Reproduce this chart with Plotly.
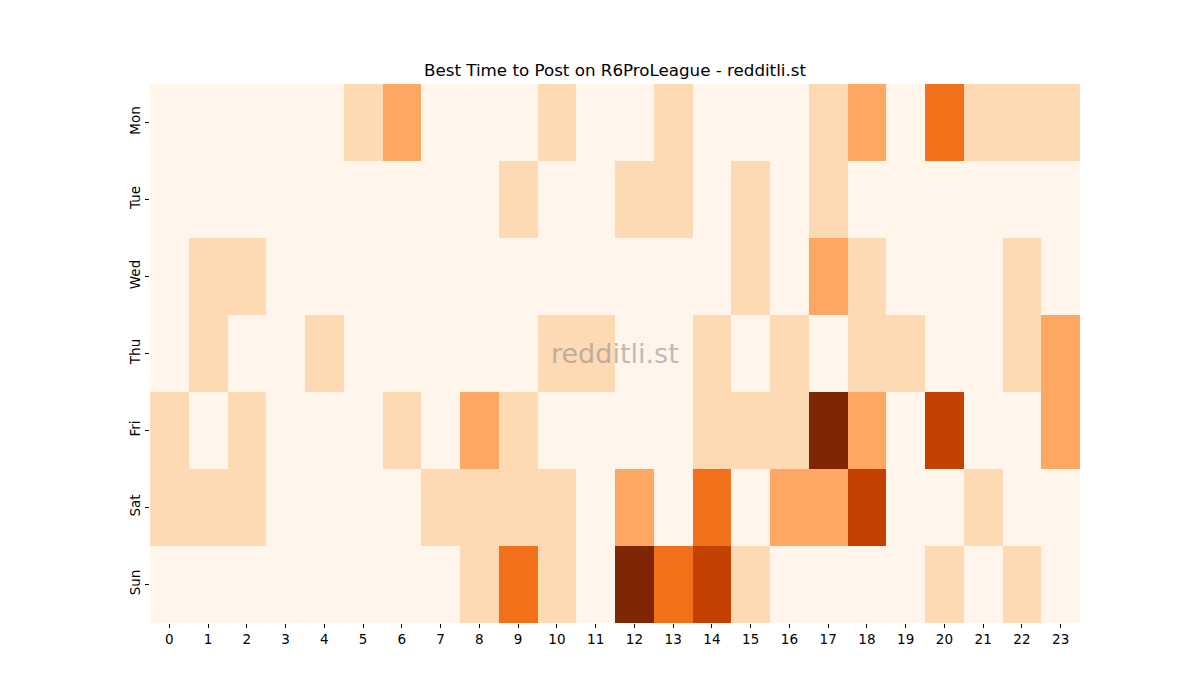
import plotly.graph_objects as go

hours = list(range(24))
days = ["Mon", "Tue", "Wed", "Thu", "Fri", "Sat", "Sun"]

mon = [0,0,0,0,0,1,2,0,0,0,1,0,0,1,0,0,0,1,2,0,3,1,1,1]
tue = [0,0,0,0,0,0,0,0,0,1,0,0,1,1,0,1,0,1,0,0,0,0,0,0]
wed = [0,1,1,0,0,0,0,0,0,0,0,0,0,0,0,1,0,2,1,0,0,0,1,0]
thu = [0,1,0,0,1,0,0,0,0,0,1,1,0,0,1,0,1,0,1,1,0,0,1,2]
fri = [1,0,1,0,0,0,1,0,2,1,0,0,0,0,1,1,1,5,2,0,4,0,0,2]
sat = [1,1,1,0,0,0,0,1,1,1,1,0,2,0,3,0,2,2,4,0,0,1,0,0]
sun = [0,0,0,0,0,0,0,0,1,3,1,0,5,3,4,1,0,0,0,0,1,0,1,0]

z = [mon, tue, wed, thu, fri, sat, sun]

fig = go.Figure(go.Heatmap(
    z=z, x=hours, y=days,
    colorscale="Oranges", zmin=0, zmax=5,
    showscale=False, xgap=0, ygap=0,
))

font_family = "DejaVu Sans"
fig.update_layout(
    width=1200, height=700,
    margin=dict(l=150, r=120, t=84, b=77),
    paper_bgcolor="white", plot_bgcolor="white",
    font=dict(family=font_family, size=13.5, color="black"),
    title=dict(text="Best Time to Post on R6ProLeague - redditli.st",
               x=0.5125, xanchor="center", y=0.9, yanchor="middle",
               font=dict(size=16.7, color="black", family=font_family)),
    xaxis=dict(tickmode="array", tickvals=hours, ticktext=[str(h) for h in hours],
               ticks="outside", ticklen=4, tickcolor="black", showgrid=False,
               zeroline=False, showline=False, range=[-0.5, 23.5]),
    yaxis=dict(autorange="reversed", ticks="outside", ticklen=4, tickcolor="black",
               tickangle=-90, showgrid=False, zeroline=False, showline=False),
)

fig.add_annotation(text="redditli.st", x=0.5, y=0.5, xref="paper", yref="paper",
                   showarrow=False,
                   font=dict(size=27, color="rgba(128,128,128,0.5)", family=font_family))

fig.write_html("out.html")
